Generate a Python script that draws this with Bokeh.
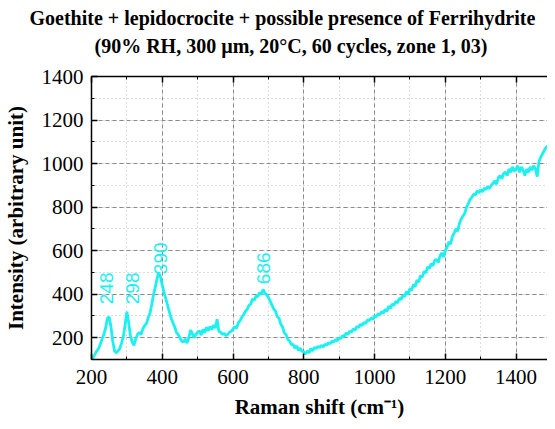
from math import pi
from bokeh.plotting import figure
from bokeh.models import (LinearAxis, SingleIntervalTicker, Range1d, ColumnDataSource, Title,
                          CustomJSTickFormatter)
from bokeh.core.properties import value
from bokeh.embed import file_html
from bokeh.resources import INLINE

# ---- data ----
raman_shift = list(range(200, 1495, 5))
intensity = [
    100, 110, 125, 140, 150, 170, 195, 215, 245, 290,   # 200-245
    295, 250, 185, 140, 130, 140, 150, 175, 205, 260,   # 250-295
    320, 270, 210, 180, 165, 195, 215, 225, 215, 240,   # 300-345
    255, 265, 290, 310, 350, 395, 430, 470, 500, 480,   # 350-395
    440, 410, 380, 350, 320, 290, 270, 250, 225, 215,   # 400-445
    200, 185, 180, 195, 175, 200, 235, 220, 200, 215,   # 450-495
    225, 232, 212, 238, 222, 248, 232, 252, 238, 258,   # 500-545
    245, 285, 230, 225, 215, 220, 210, 215, 225, 230,   # 550-595
    240, 252, 243, 268, 278, 295, 305, 322, 330, 348,   # 600-645
    355, 378, 372, 392, 388, 408, 398, 422, 405, 398,   # 650-695
    385, 368, 350, 332, 322, 298, 290, 262, 250, 222,   # 700-745
    215, 192, 185, 168, 170, 152, 162, 142, 152, 138,   # 750-795
    135, 125, 140, 130, 150, 140, 155, 150, 160, 155,   # 800-845
    165, 158, 170, 165, 178, 172, 185, 180, 192, 186,   # 850-895
    200, 196, 210, 205, 222, 215, 230, 226, 240, 235,   # 900-945
    252, 246, 262, 256, 270, 265, 282, 278, 290, 285,   # 950-995
    300, 296, 310, 305, 320, 312, 330, 322, 345, 335,   # 1000-1045
    355, 348, 368, 360, 382, 375, 395, 388, 412, 400,   # 1050-1095
    425, 418, 445, 435, 465, 455, 485, 478, 505, 498,   # 1100-1145
    525, 518, 540, 530, 555, 560, 545, 575, 590, 570,   # 1150-1195
    600, 615, 640, 630, 665, 680, 700, 690, 725, 745,   # 1200-1245
    760, 770, 800, 815, 835, 845, 860, 855, 875, 865,   # 1250-1295
    880, 870, 888, 880, 895, 885, 900, 910, 920, 905,   # 1300-1345
    935, 945, 930, 955, 960, 945, 975, 960, 985, 965,   # 1350-1395
    975, 990, 960, 985, 970, 945, 975, 960, 985, 970,   # 1400-1445
    990, 975, 940, 1010, 1030, 1045, 1060, 1075, 1080,  # 1450-1490
]
n = min(len(raman_shift), len(intensity))
raman_shift = raman_shift[:n]
intensity = intensity[:n]

peak_text = ["248", "298", "390", "686"]
peak_label_x = [241, 316, 395, 687]
peak_label_y = [354, 354, 492, 446]

title_line1 = "Goethite +  lepidocrocite + possible presence of Ferrihydrite"
title_line2 = "(90% RH, 300 \u00b5m, 20\u00b0C, 60 cycles, zone 1, 03)"
x_label = "Raman shift (cm\u207b\u00b9)"
y_label = "Intensity (arbitrary unit)"

CYAN = "#1CF0F0"
SERIF = "Liberation Serif"

p = figure(width=547, height=421, x_range=Range1d(200, 1489), y_range=Range1d(100, 1400),
           output_backend="svg", toolbar_location=None, title=None,
           min_border_left=89, min_border_top=0, min_border_bottom=0, min_border_right=0,
           background_fill_color="white", border_fill_color="white")

p.outline_line_color = None

bottom_axis = p.below[0]
left_axis = p.left[0]

ticker_x = SingleIntervalTicker(interval=200, num_minor_ticks=2)
ticker_y = SingleIntervalTicker(interval=200, num_minor_ticks=2)
bottom_axis.ticker = ticker_x
left_axis.ticker = ticker_y
p.xgrid.ticker = ticker_x
p.ygrid.ticker = ticker_y

for g in (p.xgrid, p.ygrid):
    g.grid_line_color = "#8a8a8a"
    g.grid_line_dash = "4 3"
    g.grid_line_width = 1
    g.minor_grid_line_color = "#bdbdbd"
    g.minor_grid_line_dash = "1 3"
    g.minor_grid_line_width = 1

blank = CustomJSTickFormatter(code="return ''")
top_axis = LinearAxis(ticker=ticker_x, formatter=blank, major_label_standoff=0)
p.add_layout(top_axis, "above")

for ax in (bottom_axis, left_axis, top_axis):
    ax.axis_line_color = "black"
    ax.axis_line_width = 1.5
    ax.major_tick_in = 6
    ax.major_tick_out = 0
    ax.minor_tick_in = 3
    ax.minor_tick_out = 0
    ax.major_tick_line_color = "black"
    ax.major_tick_line_width = 1.5
    ax.minor_tick_line_color = "black"
    ax.minor_tick_line_width = 1
    ax.major_label_text_font = SERIF
    ax.major_label_text_font_size = "21px"
    ax.major_label_text_color = "black"

# invisible spacer between the top frame edge and the title block
spacer_axis = LinearAxis(ticker=ticker_x, formatter=blank, major_label_standoff=0,
                         axis_line_color=None, major_tick_line_color=None,
                         minor_tick_line_color=None, major_tick_in=0, major_tick_out=20,
                         minor_tick_in=0, minor_tick_out=0)
p.add_layout(spacer_axis, "above")

left_axis.major_label_standoff = 8
bottom_axis.major_label_standoff = 10
bottom_axis.major_label_text_line_height = 1.0

bottom_axis.axis_label = x_label
bottom_axis.axis_label_standoff = 8
bottom_axis.axis_label_text_line_height = 0.8
left_axis.axis_label = y_label
left_axis.axis_label_standoff = 11
for ax in (bottom_axis, left_axis):
    ax.axis_label_text_font = SERIF
    ax.axis_label_text_font_style = "bold"
    ax.axis_label_text_font_size = "21px"
    ax.axis_label_text_color = "black"

src = ColumnDataSource(dict(x=raman_shift, y=intensity))
p.line("x", "y", source=src, line_color=CYAN, line_width=2.8)

lab_src = ColumnDataSource(dict(x=peak_label_x, y=peak_label_y, t=peak_text))
p.text("x", "y", text="t", source=lab_src, angle=pi / 2, text_align="left",
       text_baseline="middle", text_color=CYAN, text_font=value("Liberation Sans"),
       text_font_size="19px")

# two-line title (second line closest to the frame)
p.add_layout(Title(text=title_line2, align="left", offset=3, standoff=0,
                   text_font=SERIF, text_font_style="bold", text_font_size="20px",
                   text_color="black"), "above")
p.add_layout(Title(text=title_line1, align="left", offset=-62, standoff=8,
                   text_font=SERIF, text_font_style="bold", text_font_size="20px",
                   text_color="black"), "above")

open("out.html", "w").write(file_html(p, INLINE))
